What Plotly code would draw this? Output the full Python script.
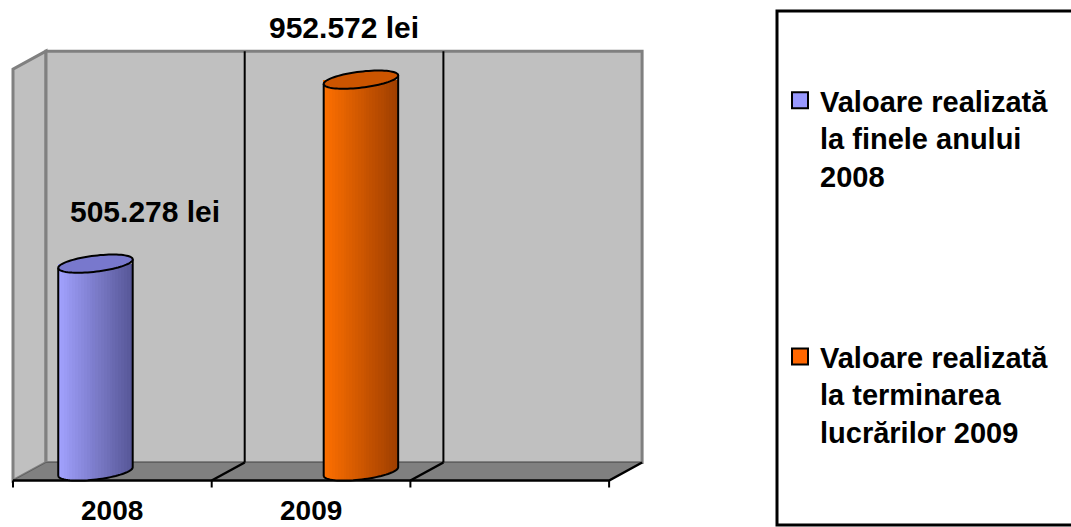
import numpy as np
import plotly.graph_objects as go

# ---------------- data ----------------
categories = ["2008", "2009", ""]
series_names = [
    "Valoare realizată<br>la finele anului<br>2008",
    "Valoare realizată<br>la terminarea<br>lucrărilor 2009",
]
# one value per category for each series (None = no bar)
series_2008 = [505.278, None, None]
series_2009 = [None, 952.572, None]
value_labels_2008 = ["505.278 lei", None, None]
value_labels_2009 = [None, "952.572 lei", None]

# ---------------- styles / geometry ----------------
W, H = 1071, 527
S = 198.7          # px per category unit
K = 0.41136        # px per value unit
P0 = 471.5         # pixel row of value 0 (mid depth)
PX0 = 29.5         # pixel column of x=-0.5 (mid depth)
Y_MAX = 1000
DX = 16.5 / S      # half depth, x
DV = 9.0 / K       # half depth, value
FONT = "Liberation Sans, Arial, sans-serif"
FS = 30

light = [(162, 162, 255), (255, 112, 0)]
dark = [(86, 86, 150), (158, 62, 0)]
topc = ["#7878CD", "#CC5500"]
swatch = ["#9999FF", "#FF6600"]
series_offsets = [-0.168, 0.168]

A_PX, B_PX = 37.5, 8.0
TH = np.arctan2(9, 75)
cth, sth = np.cos(TH), np.sin(TH)

def ell_path(cx, cv, lower=False):
    t = np.linspace(np.pi, 2 * np.pi, 41) if lower else np.linspace(0, 2 * np.pi, 81)
    xp = A_PX * np.cos(t) * cth - B_PX * np.sin(t) * sth
    yp = A_PX * np.cos(t) * sth + B_PX * np.sin(t) * cth
    pts = [f"{cx + x / S:.5f},{cv + y / K:.4f}" for x, y in zip(xp, yp)]
    return "M " + " L ".join(pts) + ("" if lower else " Z")

def lower_arc_px(xp):
    a2, b2 = A_PX ** 2, B_PX ** 2
    Aq = sth ** 2 / a2 + cth ** 2 / b2
    Bq = 2 * xp * cth * sth / a2 - 2 * xp * sth * cth / b2
    Cq = xp ** 2 * cth ** 2 / a2 + xp ** 2 * sth ** 2 / b2 - 1
    disc = np.maximum(Bq ** 2 - 4 * Aq * Cq, 0)
    return (-Bq - np.sqrt(disc)) / (2 * Aq)

fig = go.Figure()
shapes = []
annotations = []

# ----- 3D walls -----
gray_line = dict(color="#808080", width=3)
xl, xr = -0.5, len(categories) - 0.5
# left wall
shapes.append(dict(type="path", layer="below", fillcolor="#C0C0C0", line=gray_line,
                   path=f"M {xl-DX},{-DV} L {xl-DX},{Y_MAX-DV} L {xl+DX},{Y_MAX+DV} L {xl+DX},{DV} Z"))
# back wall
shapes.append(dict(type="path", layer="below", fillcolor="#C0C0C0", line=gray_line,
                   path=f"M {xl+DX},{DV} L {xl+DX},{Y_MAX+DV} L {xr+DX},{Y_MAX+DV} L {xr+DX},{DV} Z"))
# floor
shapes.append(dict(type="path", layer="below", fillcolor="#808080", line=dict(color="#606060", width=1),
                   path=f"M {xl-DX},{-DV} L {xr-DX},{-DV} L {xr+DX},{DV} L {xl+DX},{DV} Z"))
# black floor front + right edge
shapes.append(dict(type="path", layer="below", line=dict(color="black", width=2.5),
                   path=f"M {xl-DX},{-DV} L {xr-DX},{-DV} L {xr+DX},{DV}"))
# category dividers on back wall and floor, plus ticks
for k in range(len(categories) + 1):
    u = k - 0.5
    if 0 < k < len(categories):
        shapes.append(dict(type="line", layer="below", x0=u + DX, x1=u + DX, y0=DV, y1=Y_MAX + DV,
                           line=dict(color="black", width=2)))
        shapes.append(dict(type="line", layer="below", x0=u + DX, x1=u - DX, y0=DV, y1=-DV,
                           line=dict(color="black", width=2.5)))
    shapes.append(dict(type="line", layer="below", x0=u - DX, x1=u - DX, y0=-DV, y1=-DV - 7 / K,
                       line=dict(color="black", width=2)))

# legend box (right edge runs off the picture): open path top-left-bottom
bx0, bx1 = 777 / W, 1.2
by_top, by_bot = 1 - 11 / H, 1 - 525 / H
shapes.append(dict(type="path", xref="paper", yref="paper", layer="below",
                   path=f"M {bx1},{by_top} L {bx0},{by_top} L {bx0},{by_bot} L {bx1},{by_bot}",
                   line=dict(color="black", width=3), fillcolor="white"))

# ----- cylinders -----
NSTRIP = 26
for s, (vals, labels) in enumerate([(series_2008, value_labels_2008), (series_2009, value_labels_2009)]):
    for i, v in enumerate(vals):
        if v is None:
            continue
        cx = i + series_offsets[s]
        half = A_PX * cth
        edges = np.linspace(-half, half, NSTRIP + 1)
        centers = (edges[:-1] + edges[1:]) / 2
        base_vals = lower_arc_px(centers) / K
        frac = (centers + half) / (2 * half)
        cols = []
        for f in frac:
            c = [int(round(light[s][j] + (dark[s][j] - light[s][j]) * f)) for j in range(3)]
            cols.append(f"rgb({c[0]},{c[1]},{c[2]})")
        fig.add_trace(go.Bar(
            x=cx + centers / S, y=v - base_vals, base=base_vals,
            width=(edges[1] - edges[0]) / S * 1.15,
            marker=dict(color=cols, line=dict(width=0)),
            showlegend=False, hoverinfo="skip"))
        # outline: sides, bottom arc, top face
        lx, ly = -A_PX * cth / S, -A_PX * sth / K
        for sign in (-1, 1):
            shapes.append(dict(type="line", x0=cx + sign * -lx, x1=cx + sign * -lx,
                               y0=sign * -ly, y1=v + sign * -ly,
                               line=dict(color="black", width=2)))
        shapes.append(dict(type="path", path=ell_path(cx, 0, lower=True),
                           line=dict(color="black", width=2)))
        shapes.append(dict(type="path", path=ell_path(cx, v), fillcolor=topc[s],
                           line=dict(color="black", width=2)))
        annotations.append(dict(x=i + DX, y=v, yshift=52, text=labels[i], showarrow=False,
                                font=dict(family=FONT, size=FS, color="black", weight="bold")))

# category labels
for i, c in enumerate(categories):
    if c:
        annotations.append(dict(x=i - DX, y=-DV, yshift=-30, text=c, showarrow=False,
                                font=dict(family=FONT, size=28, color="black", weight="bold")))

# legend entries
for s, name in enumerate(series_names):
    fig.add_trace(go.Scatter(x=[None], y=[None], mode="markers", name=name, legendgroup=f"g{s}",
                             marker=dict(symbol="square", size=16, color=swatch[s],
                                         line=dict(color="black", width=2))))

fig.update_layout(
    width=W, height=H, margin=dict(l=0, r=0, t=0, b=0),
    paper_bgcolor="white", plot_bgcolor="white",
    barmode="overlay", bargap=0,
    xaxis=dict(range=[-0.5 - PX0 / S, -0.5 + (W - PX0) / S], visible=False, fixedrange=True),
    yaxis=dict(range=[(P0 - H) / K, P0 / K], visible=False, fixedrange=True),
    shapes=shapes, annotations=annotations,
    showlegend=True,
    legend=dict(x=780 / W, y=1 - 75 / H, xanchor="left", yanchor="top",
                font=dict(family=FONT, size=29, color="black", weight="bold"),
                bgcolor="rgba(0,0,0,0)", borderwidth=0, traceorder="grouped",
                tracegroupgap=140, valign="top", itemwidth=30),
)

fig.write_html("out.html", config={"displayModeBar": False},
               post_script="document.body.style.margin='0';document.body.style.overflow='hidden';")
